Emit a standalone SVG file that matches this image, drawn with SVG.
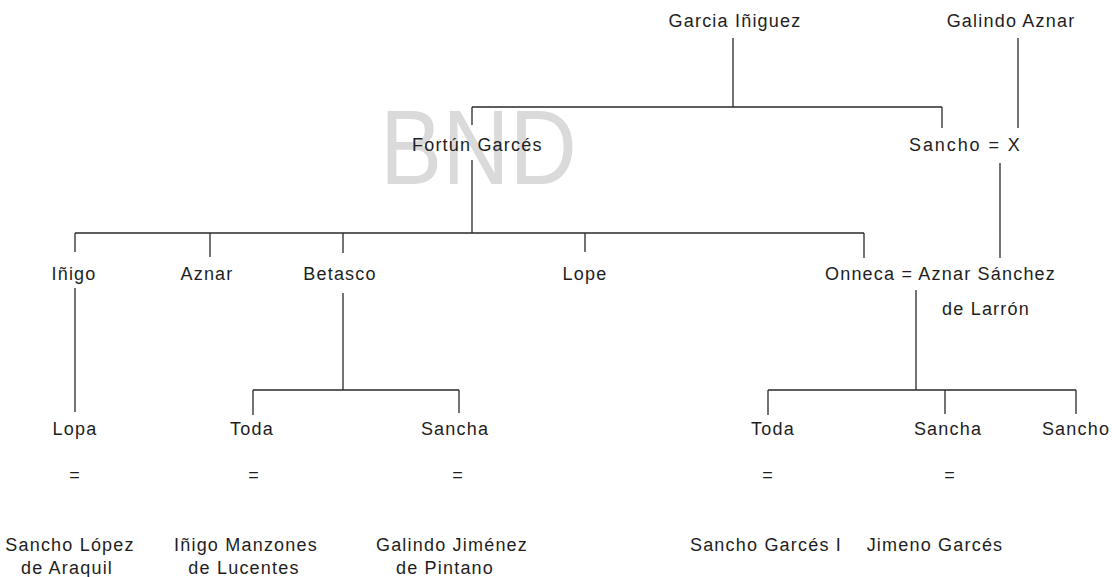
<svg xmlns="http://www.w3.org/2000/svg" width="1113" height="577" viewBox="0 0 1113 577">
<style>
.t{font-family:"Liberation Sans",Arial,sans-serif;font-size:18px;letter-spacing:1.2px;fill:#1e1e1e;text-anchor:middle}
.s{text-anchor:start}
.c{fill:none;stroke:#2a2a2a;stroke-width:1.3}
.wm{font-family:"Liberation Sans",Arial,sans-serif;font-size:106px;fill:#dadada}
</style>
<rect width="1113" height="577" fill="#ffffff"/>
<text class="wm" x="380" y="184" textLength="197" lengthAdjust="spacingAndGlyphs">BND</text>
<g id="connectors" class="c">
<path d="M733 38V107M472 107H942M472 107V125M942 107V128M1018 38V128"/>
<path d="M472 160V233M75 233H864M75 233V252M210 233V257M343 233V253M585 233V252M864 233V258M1000 163V258"/>
<path d="M75 288V412M343 293V390M253 390H459M253 390V415M459 390V413"/>
<path d="M916 290V390M768 390H1076M768 390V415M945 390V414M1076 390V414"/>
</g>
<g id="garcia-iniguez"><text class="t" x="735" y="27">Garcia Iñiguez</text></g>
<g id="galindo-aznar"><text class="t" x="1011" y="27">Galindo Aznar</text></g>
<g id="fortun-garces"><text class="t s" x="412" y="151">Fortún Garcés</text></g>
<g id="sancho-x"><text class="t s" x="909" y="151" textLength="112">Sancho = X</text></g>
<g id="inigo"><text class="t" x="74" y="280">Iñigo</text></g>
<g id="aznar"><text class="t" x="207" y="280">Aznar</text></g>
<g id="betasco"><text class="t" x="340" y="280">Betasco</text></g>
<g id="lope"><text class="t" x="585" y="280">Lope</text></g>
<g id="onneca"><text class="t s" x="825" y="280">Onneca = Aznar Sánchez</text><text class="t" x="986" y="315">de Larrón</text></g>
<g id="lopa"><text class="t" x="75" y="435">Lopa</text><text class="t" x="75" y="481">=</text><text class="t" x="70" y="551">Sancho López</text><text class="t" x="67" y="574">de Araquil</text></g>
<g id="toda-1"><text class="t" x="252" y="435">Toda</text><text class="t" x="254" y="481">=</text><text class="t" x="246" y="551">Iñigo Manzones</text><text class="t" x="244" y="574">de Lucentes</text></g>
<g id="sancha-1"><text class="t" x="455" y="435">Sancha</text><text class="t" x="458" y="481">=</text><text class="t" x="452" y="551">Galindo Jiménez</text><text class="t" x="445" y="574">de Pintano</text></g>
<g id="toda-2"><text class="t" x="773" y="435">Toda</text><text class="t" x="768" y="481">=</text><text class="t" x="766" y="551">Sancho Garcés I</text></g>
<g id="sancha-2"><text class="t" x="948" y="435">Sancha</text><text class="t" x="950" y="481">=</text><text class="t" x="935" y="551">Jimeno Garcés</text></g>
<g id="sancho"><text class="t" x="1076" y="435">Sancho</text></g>
</svg>
